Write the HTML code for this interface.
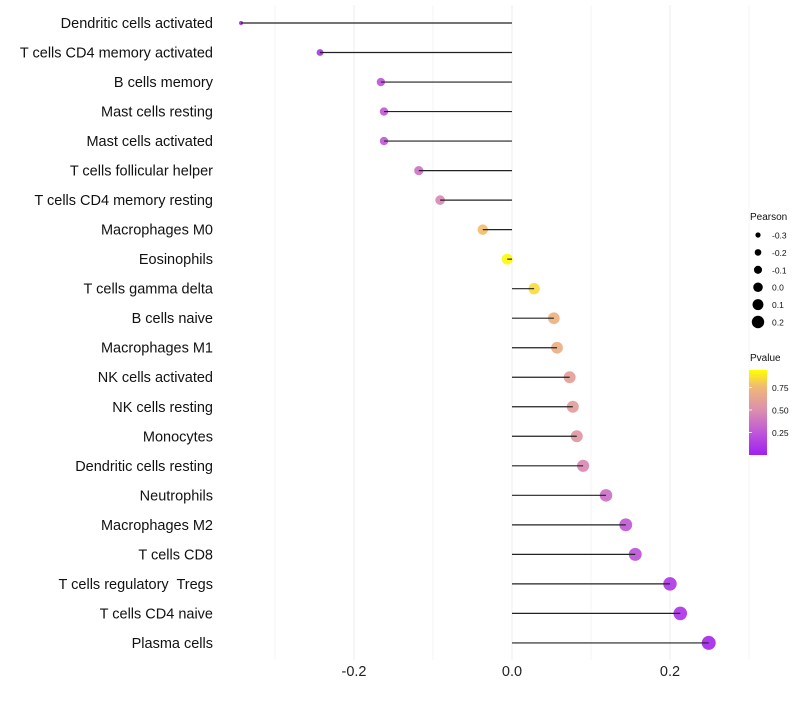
<!DOCTYPE html>
<html><head><meta charset="utf-8"><style>
body{margin:0;background:#fff;font-family:"Liberation Sans",sans-serif;}
</style></head><body>
<svg id="chart" width="800" height="700" xmlns="http://www.w3.org/2000/svg" font-family="Liberation Sans, sans-serif">
<defs><linearGradient id="pg" x1="0" y1="1" x2="0" y2="0">
<stop offset="0" stop-color="#a020f0"/><stop offset="0.27" stop-color="#c058d8"/>
<stop offset="0.53" stop-color="#dc8fae"/><stop offset="0.8" stop-color="#f0b878"/>
<stop offset="1" stop-color="#ffff00"/></linearGradient></defs>
<g id="grid"></g><g id="marks"></g><g id="stems"></g><g id="labels"></g><g id="legend"></g>
</svg>
<script>
const cells=["Dendritic cells activated","T cells CD4 memory activated","B cells memory","Mast cells resting","Mast cells activated","T cells follicular helper","T cells CD4 memory resting","Macrophages M0","Eosinophils","T cells gamma delta","B cells naive","Macrophages M1","NK cells activated","NK cells resting","Monocytes","Dendritic cells resting","Neutrophils","Macrophages M2","T cells CD8","T cells regulatory  Tregs","T cells CD4 naive","Plasma cells"];
const pearson=[-0.343,-0.243,-0.166,-0.162,-0.162,-0.118,-0.091,-0.037,-0.006,0.028,0.053,0.057,0.073,0.077,0.082,0.090,0.119,0.144,0.156,0.200,0.213,0.249];
const pvalue=[0.03,0.1,0.26,0.28,0.28,0.4,0.5,0.82,0.98,0.9,0.76,0.74,0.64,0.62,0.58,0.5,0.38,0.28,0.25,0.12,0.1,0.05];
const majorTicks=[-0.2,0,0.2];
const minorTicks=[-0.3,-0.1,0.1,0.3];
const sizeBreaks=[-0.3,-0.2,-0.1,0.0,0.1,0.2];
const pBreaks=[0.25,0.5,0.75];
const NS="http://www.w3.org/2000/svg";
const x=v=>512+v*790;
const y=i=>23+i*29.52;
const rad=v=>Math.sqrt(Math.max(2,4+(v+0.343)*76));
const stops=[[0,[160,32,240]],[0.27,[192,88,216]],[0.53,[220,143,174]],[0.8,[240,184,120]],[1,[255,255,0]]];
function col(p){for(let k=1;k<stops.length;k++){if(p<=stops[k][0]||k==stops.length-1){const a=stops[k-1],b=stops[k];const t=Math.max(0,Math.min(1,(p-a[0])/(b[0]-a[0])));return `rgb(${a[1].map((c,j)=>Math.round(c+(b[1][j]-c)*t)).join(',')})`;}}}
function mk(parent,tag,attrs,text){const e=document.createElementNS(NS,tag);for(const k in attrs)e.setAttribute(k,attrs[k]);if(text!=null)e.textContent=text;document.getElementById(parent).appendChild(e);return e;}
minorTicks.forEach(t=>{const e=mk('grid','line',{x1:x(t),x2:x(t),y1:5,y2:660,stroke:'#f5f5f5','stroke-width':1});

});
majorTicks.forEach(t=>{const e=mk('grid','line',{x1:x(t),x2:x(t),y1:5,y2:660,stroke:'#ececec','stroke-width':1});


const l=mk('labels','text',{x:x(t),y:676,'text-anchor':'middle','font-size':14.5,fill:'#222'},t===0?'0.0':t.toFixed(1));

});
cells.forEach((c,i)=>{
const d=mk('marks','circle',{cx:x(pearson[i]),cy:y(i),r:rad(pearson[i]),fill:col(pvalue[i]),'fill-opacity':0.92});


const ln=mk('stems','line',{x1:x(0),x2:x(pearson[i]),y1:y(i),y2:y(i),stroke:'#222','stroke-width':1.2});


const t=mk('labels','text',{x:213,y:y(i)+5,'text-anchor':'end','font-size':14.5,fill:'#111','xml:space':'preserve'},c);
t.style.whiteSpace='pre';

});
const pt=mk('legend','text',{x:750,y:220,'font-size':10,fill:'#111'},'Pearson');


sizeBreaks.forEach((b,k)=>{const cy=235+k*17.4;
const c=mk('legend','circle',{cx:758,cy:cy,r:2.6+(b+0.3)*7.2,fill:'#000'});


const t=mk('legend','text',{x:772,y:cy+3.5,'font-size':8.5,fill:'#111'},b.toFixed(1));

});
const vt=mk('legend','text',{x:750,y:361,'font-size':10,fill:'#111'},'Pvalue');


const bar=mk('legend','rect',{x:749,y:370,width:18,height:85,fill:'url(#pg)'});


const py=p=>455-p*90;
pBreaks.forEach(p=>{
const t=mk('legend','text',{x:772,y:py(p)+3.5,'font-size':8.5,fill:'#111'},p.toFixed(2));


const tk=mk('legend','line',{x1:749,x2:752,y1:py(p),y2:py(p),stroke:'#fff','stroke-width':0.8});

});
</script>
</body></html>
